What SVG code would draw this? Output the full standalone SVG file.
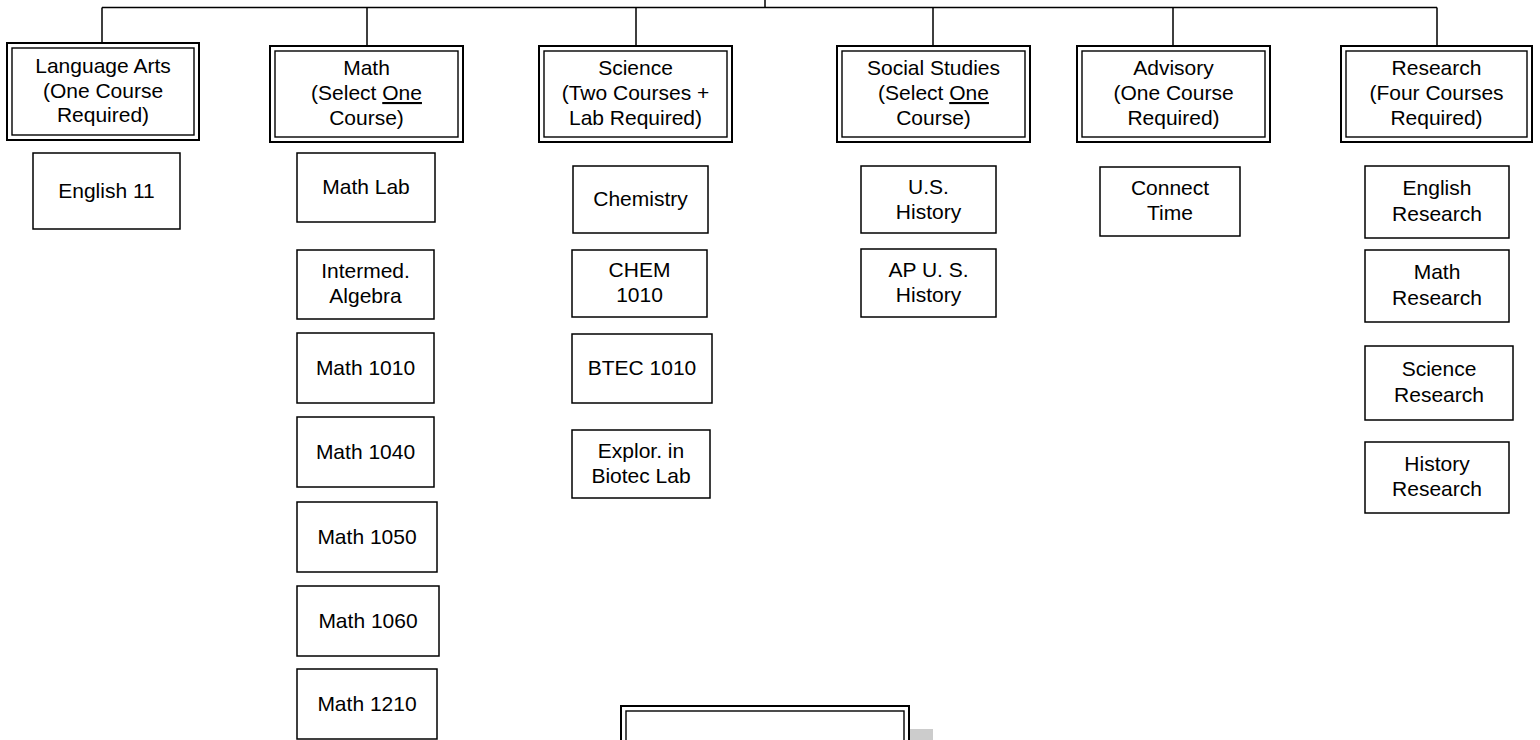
<svg xmlns="http://www.w3.org/2000/svg" width="1540" height="740" viewBox="0 0 1540 740">
<style>
text{font-family:"Liberation Sans",Arial,sans-serif;font-size:21px;fill:#000;text-anchor:middle}
.box{fill:#fff;stroke:#000;stroke-width:1.5}
.outer{fill:#fff;stroke:#000;stroke-width:2}
.inner{fill:none;stroke:#000;stroke-width:1.4}
.conn{fill:none;stroke:#000;stroke-width:1.5}
.u{text-decoration:underline}
</style>
<rect width="1540" height="740" fill="#fff"/>
<g id="connectors">
<path class="conn" d="M765,0V7.5M102,7.5H1437M102,7.5V43M367,7.5V46M636,7.5V46M933,7.5V46M1173,7.5V46M1437,7.5V46"/>
</g>
<g id="h-language">
<rect class="outer" x="7" y="43" width="192" height="97"/><rect class="inner" x="12" y="48" width="182" height="87"/>
<text x="103" y="73">Language Arts</text><text x="103" y="97.5">(One Course</text><text x="103" y="122">Required)</text>
</g>
<g id="h-math">
<rect class="outer" x="270" y="46" width="193" height="96"/><rect class="inner" x="275" y="51" width="183" height="86"/>
<text x="366.5" y="75">Math</text><text x="366.5" y="100">(Select <tspan class="u">One</tspan></text><text x="366.5" y="125">Course)</text>
</g>
<g id="h-science">
<rect class="outer" x="539" y="46" width="193" height="96"/><rect class="inner" x="544" y="51" width="183" height="86"/>
<text x="635.5" y="75">Science</text><text x="635.5" y="100">(Two Courses +</text><text x="635.5" y="125">Lab Required)</text>
</g>
<g id="h-social">
<rect class="outer" x="837" y="46" width="193" height="96"/><rect class="inner" x="842" y="51" width="183" height="86"/>
<text x="933.5" y="75">Social Studies</text><text x="933.5" y="100">(Select <tspan class="u">One</tspan></text><text x="933.5" y="125">Course)</text>
</g>
<g id="h-advisory">
<rect class="outer" x="1077" y="46" width="193" height="96"/><rect class="inner" x="1082" y="51" width="183" height="86"/>
<text x="1173.5" y="75">Advisory</text><text x="1173.5" y="100">(One Course</text><text x="1173.5" y="125">Required)</text>
</g>
<g id="h-research">
<rect class="outer" x="1341" y="46" width="191" height="96"/><rect class="inner" x="1346" y="51" width="181" height="86"/>
<text x="1436.5" y="75">Research</text><text x="1436.5" y="100">(Four Courses</text><text x="1436.5" y="125">Required)</text>
</g>
<g id="c-english11"><rect class="box" x="33" y="153" width="147" height="76"/><text x="106.5" y="197.5">English 11</text></g>
<g id="c-mathlab"><rect class="box" x="297" y="153" width="138" height="69"/><text x="366" y="194">Math Lab</text></g>
<g id="c-algebra"><rect class="box" x="297" y="250" width="137" height="69"/><text x="365.5" y="278">Intermed.</text><text x="365.5" y="303">Algebra</text></g>
<g id="c-math1010"><rect class="box" x="297" y="333" width="137" height="70"/><text x="365.5" y="374.5">Math 1010</text></g>
<g id="c-math1040"><rect class="box" x="297" y="417" width="137" height="70"/><text x="365.5" y="458.5">Math 1040</text></g>
<g id="c-math1050"><rect class="box" x="297" y="502" width="140" height="70"/><text x="367" y="543.5">Math 1050</text></g>
<g id="c-math1060"><rect class="box" x="297" y="586" width="142" height="70"/><text x="368" y="627.5">Math 1060</text></g>
<g id="c-math1210"><rect class="box" x="297" y="669" width="140" height="70"/><text x="367" y="710.5">Math 1210</text></g>
<g id="c-chemistry"><rect class="box" x="573" y="166" width="135" height="67"/><text x="640.5" y="206">Chemistry</text></g>
<g id="c-chem1010"><rect class="box" x="572" y="250" width="135" height="67"/><text x="639.5" y="277">CHEM</text><text x="639.5" y="302">1010</text></g>
<g id="c-btec1010"><rect class="box" x="572" y="334" width="140" height="69"/><text x="642" y="375">BTEC 1010</text></g>
<g id="c-explor"><rect class="box" x="572" y="430" width="138" height="68"/><text x="641" y="457.5">Explor. in</text><text x="641" y="482.5">Biotec Lab</text></g>
<g id="c-ushistory"><rect class="box" x="861" y="166" width="135" height="67"/><text x="928.5" y="193.5">U.S.</text><text x="928.5" y="218.5">History</text></g>
<g id="c-apushistory"><rect class="box" x="861" y="249" width="135" height="68"/><text x="928.5" y="276.5">AP U. S.</text><text x="928.5" y="301.5">History</text></g>
<g id="c-connect"><rect class="box" x="1100" y="167" width="140" height="69"/><text x="1170" y="194.5">Connect</text><text x="1170" y="219.5">Time</text></g>
<g id="c-engresearch"><rect class="box" x="1365" y="166" width="144" height="72"/><text x="1437" y="195">English</text><text x="1437" y="220.5">Research</text></g>
<g id="c-mathresearch"><rect class="box" x="1365" y="250" width="144" height="72"/><text x="1437" y="279">Math</text><text x="1437" y="304.5">Research</text></g>
<g id="c-sciresearch"><rect class="box" x="1365" y="346" width="148" height="74"/><text x="1439" y="376">Science</text><text x="1439" y="401.5">Research</text></g>
<g id="c-histresearch"><rect class="box" x="1365" y="442" width="144" height="71"/><text x="1437" y="470.5">History</text><text x="1437" y="496">Research</text></g>
<g id="bottom-box">
<rect x="645" y="729" width="288" height="40" fill="#cccccc"/>
<rect class="outer" x="621" y="706" width="288" height="60"/><rect class="inner" x="626" y="711" width="278" height="50"/>
</g>
</svg>
